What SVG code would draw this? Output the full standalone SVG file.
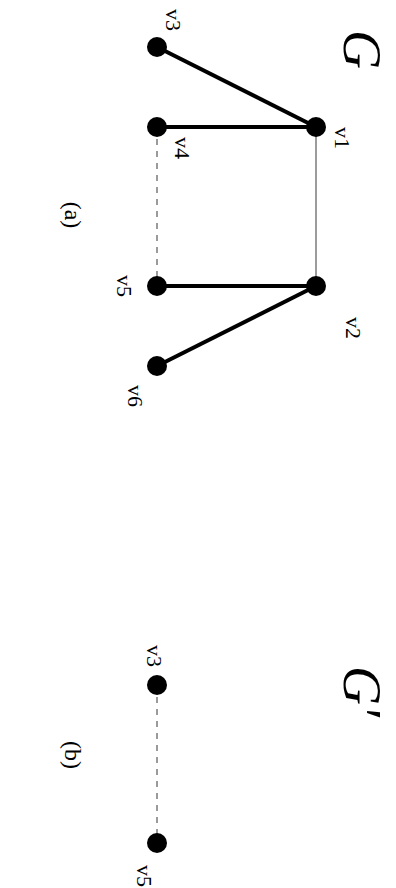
<svg xmlns="http://www.w3.org/2000/svg" width="396" height="888" viewBox="0 0 396 888">
<style>
.thick{stroke:#000;stroke-width:4;fill:none}
.thin{stroke:#666;stroke-width:1.3;fill:none}
.dash{stroke:#666;stroke-width:1.3;fill:none;stroke-dasharray:6,6}
.node{fill:#000}
.lbl{font-family:"Liberation Serif",serif;font-size:22px;fill:#000}
.title{font-family:"Liberation Serif",serif;font-style:italic;font-size:54px;fill:#000}
.cap{font-family:"Liberation Serif",serif;font-size:24px;fill:#000}
</style>
<rect width="396" height="888" fill="#fff"/>
<g id="connectors">
<line class="thick" x1="157" y1="47" x2="316" y2="127"/>
<line class="thick" x1="157" y1="127" x2="316" y2="127"/>
<line class="thin" x1="316" y1="127" x2="316" y2="286"/>
<line class="dash" x1="157" y1="127" x2="157" y2="286"/>
<line class="thick" x1="157" y1="286" x2="316" y2="286"/>
<line class="thick" x1="157" y1="366" x2="316" y2="286"/>
<line class="dash" x1="157" y1="685" x2="157" y2="843"/>
</g>
<g id="G-title"><text class="title" transform="translate(344,30) rotate(90)">G</text></g>
<g id="v1"><circle class="node" cx="316" cy="127" r="10"/><text class="lbl" transform="translate(335,127) rotate(90)">v1</text></g>
<g id="v2"><circle class="node" cx="316" cy="286" r="10"/><text class="lbl" transform="translate(346,317) rotate(90)">v2</text></g>
<g id="v3"><circle class="node" cx="157" cy="47" r="10"/><text class="lbl" transform="translate(166,9) rotate(90)">v3</text></g>
<g id="v4"><circle class="node" cx="157" cy="127" r="10"/><text class="lbl" transform="translate(175,137) rotate(90)">v4</text></g>
<g id="v5"><circle class="node" cx="157" cy="286" r="10"/><text class="lbl" transform="translate(117,275) rotate(90)">v5</text></g>
<g id="v6"><circle class="node" cx="157" cy="366" r="10"/><text class="lbl" transform="translate(128,385) rotate(90)">v6</text></g>
<g id="cap-a"><text class="cap" text-anchor="middle" transform="translate(65,215) rotate(90)">(a)</text></g>
<g id="Gp-title"><text class="title" transform="translate(344,666) rotate(90)">G′</text></g>
<g id="p-v3"><circle class="node" cx="157" cy="685" r="10"/><text class="lbl" transform="translate(147,645) rotate(90)">v3</text></g>
<g id="p-v5"><circle class="node" cx="157" cy="843" r="10"/><text class="lbl" transform="translate(137,865) rotate(90)">v5</text></g>
<g id="cap-b"><text class="cap" text-anchor="middle" transform="translate(65,755) rotate(90)">(b)</text></g>
</svg>
